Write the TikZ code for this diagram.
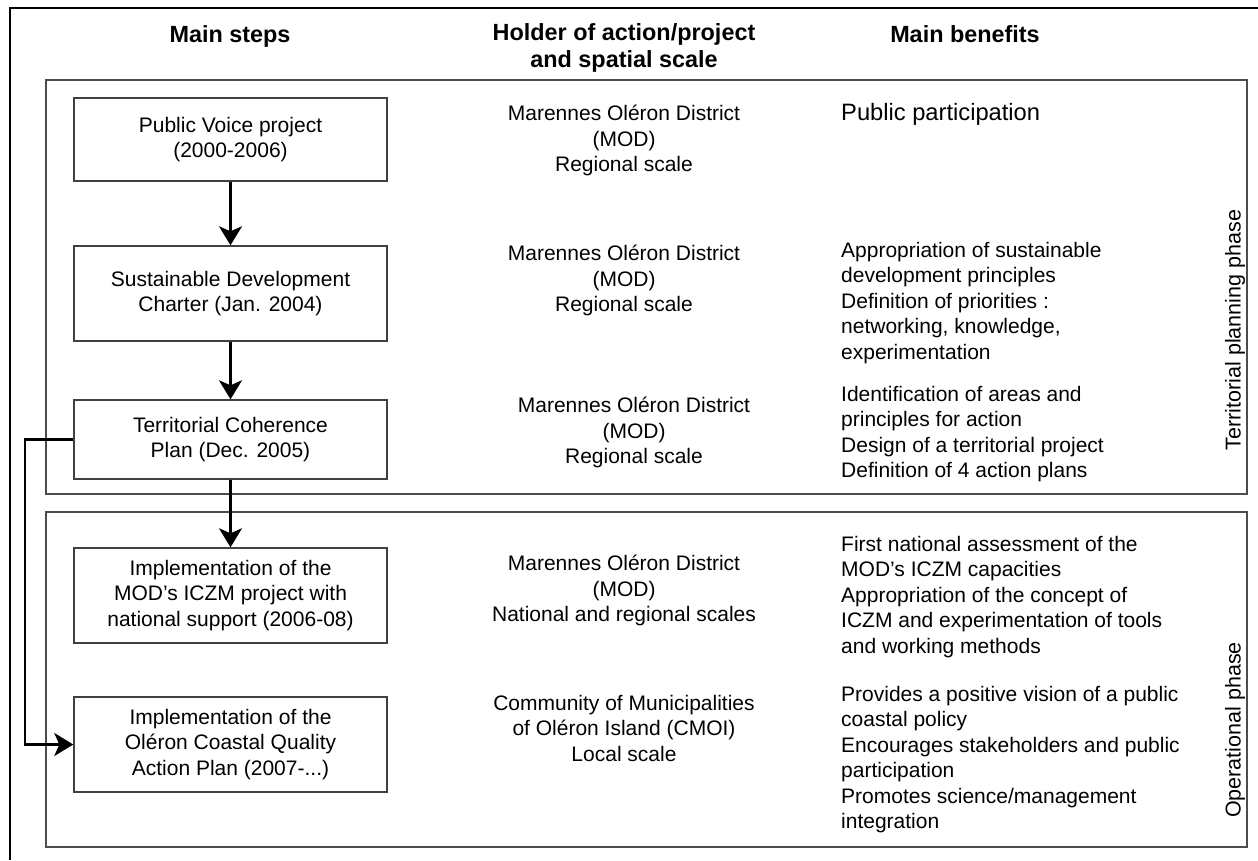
\documentclass[tikz,border=0pt]{standalone}
\usepackage{fontspec}
\setmainfont{Liberation Sans}
\usetikzlibrary{arrows.meta}
\begin{document}
\begin{tikzpicture}[x=1pt,y=-1pt,
  stepbox/.style={draw=black!75, line width=1.4pt, minimum width=313pt, align=center,
    font=\fontsize{21}{25.5}\selectfont, inner sep=0pt},
  panel/.style={draw=black!70, line width=1.4pt},
  hdr/.style={font=\bfseries\fontsize{23.4}{27}\selectfont, align=center, inner sep=0pt},
  holder/.style={font=\fontsize{21}{25.5}\selectfont, align=center, anchor=north, inner sep=0pt},
  benefit/.style={font=\fontsize{21}{25.5}\selectfont, align=left, anchor=north west, inner sep=0pt},
  phase/.style={font=\fontsize{21.5}{24}\selectfont, rotate=90, inner sep=0pt},
  flow/.style={line width=2.2pt, -{Stealth[length=19pt,width=23pt,inset=5pt]}}
]
\useasboundingbox (0,0) rectangle (1258,860);
% outer frame (cropped)
\draw[line width=2pt] (10,860) -- (10,8) -- (1258,8);
% phase panels
\draw[panel] (46,80) rectangle (1247,494);
\draw[panel] (46,512) rectangle (1247,847);
% headers
\node[hdr, anchor=base] (h1) at (230,42) {Main steps};
\node[hdr, anchor=north] (h2) at (624,23) {Holder of action/project\\and spatial scale};
\node[hdr, anchor=base] (h3) at (965,42) {Main benefits};
% step boxes
\node[stepbox, minimum height=83pt] (b1) at (230.5,139.5) {Public Voice project\\(2000-2006)};
\node[stepbox, minimum height=95pt] (b2) at (230.5,293.5) {Sustainable Development\\Charter (Jan. 2004)};
\node[stepbox, minimum height=79pt] (b3) at (230.5,439.5) {Territorial Coherence\\Plan (Dec. 2005)};
\node[stepbox, minimum height=95pt] (b4) at (230.5,595.5) {Implementation of the\\MOD’s ICZM project with\\national support (2006-08)};
\node[stepbox, minimum height=95pt] (b5) at (230.5,744.5) {Implementation of the\\Oléron Coastal Quality\\Action Plan (2007-...)};
% holders
\node[holder] (m1) at (624,105) {Marennes Oléron District\\(MOD)\\Regional scale};
\node[holder] (m2) at (624,245) {Marennes Oléron District\\(MOD)\\Regional scale};
\node[holder] (m3) at (634,397) {Marennes Oléron District\\(MOD)\\Regional scale};
\node[holder] (m4) at (624,555) {Marennes Oléron District\\(MOD)\\National and regional scales};
\node[holder] (m5) at (624,695) {Community of Municipalities\\of Oléron Island (CMOI)\\Local scale};
% benefits
\node[benefit, font=\fontsize{23.7}{28}\selectfont] (r1) at (841,103) {Public participation};
\node[benefit] (r2) at (841,242) {Appropriation of sustainable\\development principles\\Definition of priorities :\\networking, knowledge,\\experimentation};
\node[benefit] (r3) at (841,386) {Identification of areas and\\principles for action\\Design of a territorial project\\Definition of 4 action plans};
\node[benefit] (r4) at (841,536) {First national assessment of the\\MOD’s ICZM capacities\\Appropriation of the concept of\\ICZM and experimentation of tools\\and working methods};
\node[benefit] (r5) at (841,686) {Provides a positive vision of a public\\coastal policy\\Encourages stakeholders and public\\participation\\Promotes science/management\\integration};
% phase labels
\node[phase] (p1) at (1235,330) {Territorial planning phase};
\node[phase] (p2) at (1235,730) {Operational phase};
% connectors
\draw[flow] (b1.south) -- (b2.north);
\draw[flow] (b2.south) -- (b3.north);
\draw[flow] (b3.south) -- (b4.north);
\draw[flow] (b3.west) -- ++(-48,0) |- (b5.west);
\end{tikzpicture}
\end{document}
